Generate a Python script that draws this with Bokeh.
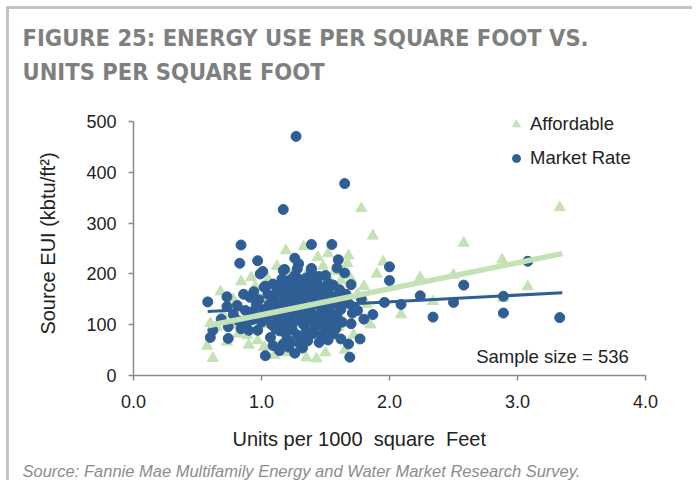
from bokeh.plotting import figure
from bokeh.models import Label, Legend, LegendItem, FixedTicker, PrintfTickFormatter, ColumnDataSource, Title
from bokeh.embed import file_html
from bokeh.resources import INLINE

# ---------------- data ----------------
mr_x = [1.27, 1.65, 1.17, 0.84, 1.39, 1.55,
        0.83, 0.97, 1.26, 1.29, 0.99, 1.01, 1.17, 1.39, 1.39, 1.60, 1.59, 1.65, 1.50, 1.26,
        1.03, 1.09, 1.16, 1.25, 1.33, 1.38, 1.61, 1.70, 2.00, 2.00,
        0.58, 0.73, 0.73, 0.81, 0.91, 0.98, 0.875, 0.685, 0.74, 0.62, 0.60, 0.74, 0.84, 0.90, 0.97,
        1.03, 1.07, 1.09, 1.14, 1.20, 1.21, 1.26, 1.32, 1.33, 1.40, 1.47, 1.56, 1.62, 1.68, 1.69,
        1.77, 1.70, 1.80, 1.87, 1.71, 1.96, 2.09, 1.78,
        2.24, 2.34, 2.50, 2.58, 2.89, 2.89, 3.08, 3.33,
        1.16, 1.18, 1.28, 1.29, 1.02, 1.11, 1.14,
        1.05, 1.10, 1.12, 1.15, 1.18, 1.20, 1.22, 1.24, 1.26, 1.28, 1.30, 1.32, 1.34, 1.36, 1.38,
        1.40, 1.42, 1.44, 1.46, 1.48, 1.50, 1.52, 1.54, 1.56, 1.58, 1.60, 1.62, 1.64,
        1.10, 1.13, 1.16, 1.19, 1.21, 1.23, 1.25, 1.27, 1.29, 1.31, 1.33, 1.35, 1.37, 1.39,
        1.41, 1.43, 1.45, 1.47, 1.49, 1.51, 1.53, 1.55, 1.57, 1.59,
        1.02, 1.04, 1.06, 1.08, 0.95, 0.93, 1.00, 0.96, 0.92,
        1.14, 1.22, 1.30, 1.35, 1.43, 1.45, 1.52, 1.56, 1.48, 1.66, 1.68, 1.72, 1.75,
        1.12, 1.18, 1.24, 1.28, 1.35, 1.42, 1.50, 1.58, 1.63,
        1.17, 1.23, 1.30, 1.36, 1.45, 1.52,
        1.24, 1.31, 1.36, 1.19, 1.27, 1.41, 1.09, 1.15, 0.88, 0.86, 0.94, 0.78, 0.82]
mr_y = [471, 378, 327, 257, 258, 258,
        221, 226, 231, 220, 200, 205, 207, 211, 204, 228, 212, 202, 197, 197,
        176, 180, 184, 180, 177, 180, 169, 179, 214, 187,
        145, 155, 136, 138, 154, 149, 128, 111, 96, 89, 75, 73, 92, 89, 89,
        39, 75, 59, 49, 72, 56, 44, 54, 75, 82, 79, 82, 72, 62, 36,
        72, 102, 111, 120, 123, 144, 140, 151,
        157, 115, 144, 178, 156, 123, 225, 114,
        190, 209, 210, 190, 174, 92, 88,
        160, 150, 165, 140, 155, 170, 145, 160, 135, 150, 165, 140, 155, 170, 130,
        150, 160, 140, 175, 155, 135, 165, 145, 120, 155, 140, 130, 150,
        120, 110, 125, 100, 115, 130, 105, 120, 110, 125, 100, 115, 108, 120,
        105, 118, 110, 125, 100, 112, 130, 105, 98, 115,
        130, 115, 140, 100, 120, 110, 105, 140, 125,
        178, 188, 185, 192, 188, 195, 182, 178, 168, 160, 142, 135, 128,
        95, 85, 90, 80, 88, 95, 90, 92, 105,
        62, 65, 62, 68, 65, 70,
        150, 145, 135, 138, 172, 175, 133, 102, 102, 160, 165, 120, 108]

aff_x = [1.78, 1.87, 1.19, 1.33, 1.44, 1.68, 1.95, 1.67, 0.84, 0.92, 0.68, 0.60, 0.575, 0.62,
         1.43, 2.09, 1.80, 0.82, 0.89, 0.73, 0.97, 1.02, 1.54, 1.62, 1.38, 1.43, 2.24, 2.58,
         2.50, 2.88, 3.33, 3.08, 2.34, 2.89, 1.49, 0.97, 1.08, 1.12, 1.25, 1.35, 1.48, 1.57,
         1.70, 1.75, 1.82, 1.05, 0.78, 0.70, 0.65, 0.80, 1.15, 1.30, 1.40, 1.55, 1.60, 1.20,
         1.65, 1.72, 1.10, 0.90, 1.00, 1.26, 1.50, 1.85, 1.90, 1.35, 1.52, 1.58, 1.22, 1.45,
         0.95, 1.05]
aff_y = [329, 275, 246, 254, 233, 236, 224, 221, 185, 193, 165, 103, 58, 34,
         33, 120, 176, 82, 79, 66, 69, 56, 187, 187, 95, 89, 193, 261,
         198, 228, 331, 175, 146, 152, 111, 131, 125, 215, 205, 200, 215, 205,
         190, 160, 140, 190, 150, 120, 95, 100, 160, 120, 140, 160, 95, 45,
         50, 80, 40, 60, 150, 100, 45, 100, 200, 35, 240, 125, 175, 170,
         175, 100]

# linear trend lines (end points)
aff_trend_x = [0.58, 3.35]
aff_trend_y = [98, 240]
mr_trend_x = [0.58, 3.35]
mr_trend_y = [126, 163]

x_ticks = [0, 1, 2, 3, 4]
y_ticks = [0, 100, 200, 300, 400, 500]

BLUE = "#2f5e95"
GREEN = "#c3e2b5"
FONT = "Liberation Sans"
TEXT = "#222222"

p = figure(width=686, height=474, x_range=(0, 4), y_range=(0, 520),
           output_backend="svg", toolbar_location=None, title=None,
           min_border_left=124, min_border_right=50, min_border_top=102, min_border_bottom=108)
p.styles = {"border-left": "3px solid #c4c4c4", "border-top": "3px solid #c4c4c4",
            "margin-left": "6px", "margin-top": "6px"}
p.outline_line_color = None
p.xgrid.visible = False
p.ygrid.visible = False
p.background_fill_color = "white"
p.border_fill_color = "white"

aff_src = ColumnDataSource(dict(x=aff_x, y=aff_y))
mr_src = ColumnDataSource(dict(x=mr_x, y=mr_y))

r_aff = p.scatter("x", "y", source=aff_src, marker="triangle", size=11,
                  fill_color=GREEN, line_color=GREEN)
r_mr = p.scatter("x", "y", source=mr_src, marker="circle", size=10,
                 fill_color=BLUE, line_color=BLUE)
p.line(mr_trend_x, mr_trend_y, line_color=BLUE, line_width=3)
p.line(aff_trend_x, aff_trend_y, line_color=GREEN, line_width=5.5)

for ax in (p.xaxis[0], p.yaxis[0]):
    ax.axis_line_color = "#8a8a8a"
    ax.axis_line_width = 1.5
    ax.major_tick_line_color = "#8a8a8a"
    ax.major_tick_line_width = 1.5
    ax.major_tick_out = 5
    ax.major_tick_in = 0
    ax.minor_tick_line_color = None
    ax.major_label_text_font = FONT
    ax.major_label_text_font_size = "18px"
    ax.major_label_text_color = TEXT
    ax.axis_label_text_font = FONT
    ax.axis_label_text_font_size = "20px"
    ax.axis_label_text_font_style = "normal"
    ax.axis_label_text_color = TEXT

p.yaxis.bounds = (0, 500)
p.xaxis.ticker = FixedTicker(ticks=x_ticks)
p.xaxis.formatter = PrintfTickFormatter(format="%.1f")
p.yaxis.ticker = FixedTicker(ticks=y_ticks)
p.yaxis.axis_label = "Source EUI (kbtu/ft\u00b2)"
p.xaxis.major_label_standoff = 14
p.yaxis.major_label_standoff = 12
p.yaxis.axis_label_standoff = 24

legend = Legend(items=[LegendItem(label="Affordable", renderers=[r_aff]),
                       LegendItem(label="Market Rate", renderers=[r_mr])],
                location=(373, 206), padding=0, spacing=12, glyph_width=20, glyph_height=22,
                label_height=22, label_standoff=4, background_fill_alpha=0,
                border_line_alpha=0, label_text_font=FONT, label_text_font_size="18.5px",
                label_text_color=TEXT)
p.add_layout(legend)

p.add_layout(Label(x=3.87, y=37, text="Sample size = 536", text_font=FONT,
                   text_font_size="18.5px", text_color=TEXT, text_align="right",
                   text_baseline="middle"))

# x-axis title, then source note (below the axis)
p.add_layout(Title(text="Units per 1000\u00a0 square\u00a0 Feet", align="left", offset=99,
                   text_font=FONT, text_font_size="20px", text_font_style="normal",
                   text_color=TEXT, standoff=30), "below")
p.add_layout(Title(text="Source: Fannie Mae Multifamily Energy and Water Market Research Survey.",
                   align="left", offset=-111, text_font=FONT, text_font_size="16.5px",
                   text_font_style="italic", text_color="#8c8c8c", standoff=-10), "below")

# heading, two lines (second line added first: it sits nearer the frame)
head = dict(align="left", offset=-111, text_font="DejaVu Sans Condensed",
            text_font_style="bold", text_font_size="23.5px", text_color="#7f7f7f")
p.add_layout(Title(text="UNITS PER SQUARE FOOT", standoff=51, **head), "above")
p.add_layout(Title(text="FIGURE 25: ENERGY USE PER SQUARE FOOT VS.", standoff=-43, **head), "above")

open("out.html", "w").write(file_html(p, INLINE))
